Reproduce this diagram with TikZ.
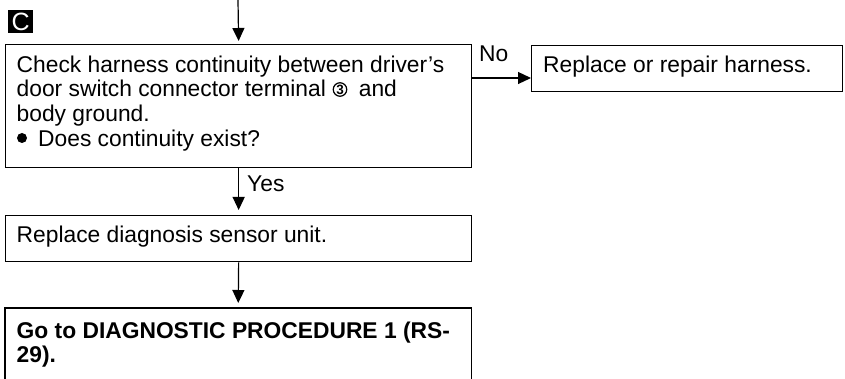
\documentclass[tikz,border=0pt]{standalone}
\usepackage{fontspec}
\setmainfont{Liberation Sans}
\usetikzlibrary{arrows.meta}
\begin{document}
\begin{tikzpicture}[x=1pt,y=-1pt,
  box/.style={draw, line width=1.3pt, inner sep=0pt, anchor=north west},
  txt/.style={inner sep=0pt, anchor=north west, align=left, font=\fontsize{22.8}{24.7}\selectfont},
  lab/.style={inner sep=0pt, anchor=base west, font=\fontsize{22.8}{24.7}\selectfont},
  arr/.style={line width=1.2pt, -{Triangle[length=13pt,width=12pt]}},
]
\useasboundingbox (0,0) rectangle (845,379);
% badge
\node[fill=black, text=white, minimum width=25pt, minimum height=23pt, inner sep=0pt, anchor=north west, font=\fontsize{25}{25}\selectfont] (badge) at (8,10) {C};
% boxes
\node[box, minimum width=466pt, minimum height=123pt] (b1) at (5,44) {};
\node[box, minimum width=466pt, minimum height=46pt] (b2) at (5,215) {};
\node[inner sep=0pt, anchor=north west, minimum width=466pt, minimum height=71pt] (b3) at (5,308) {};
\draw[line width=1.3pt] (b3.south west) -- (b3.north west) -- (b3.north east) -- (b3.south east);
\node[box, minimum width=311pt, minimum height=46pt] (r) at (531,45) {};
% texts
\node[txt] (t1) at (16.5,54.7) {\strut Check harness continuity between driver’s\\door switch connector terminal\hspace{33pt}and\\body ground.\\\hspace{21.5pt}Does continuity exist?};
\node[circle, draw, line width=1.2pt, inner sep=0pt, minimum size=13.5pt, font=\bfseries\fontsize{13.5}{13.5}\selectfont] (c3) at (340,89.5) {3};
\fill (22,138) circle[radius=5pt];
\node[txt] (t2) at (16.5,224.7) {\strut Replace diagnosis sensor unit.};
\node[txt, font=\bfseries\fontsize{22.8}{24.7}\selectfont] (t3) at (16.5,320.7) {\strut Go to DIAGNOSTIC PROCEDURE 1 (RS-\\29).};
\node[txt] (tr) at (543,54.7) {\strut Replace or repair harness.};
% connectors
\coordinate (top) at (238,0);
\draw[arr, shorten >=3pt] (top) -- (b1.north);
\draw[arr, shorten >=5pt] (b1.south) -- (b2.north);
\node[lab] (yes) at (247,192) {Yes};
\draw[arr, shorten >=5pt] (b2.south) -- (b3.north);
\coordinate (noy) at (0,78);
\draw[arr] (b1.east |- noy) -- (r.west |- noy);
\node[lab] (no) at (479,62) {No};
\end{tikzpicture}
\end{document}
